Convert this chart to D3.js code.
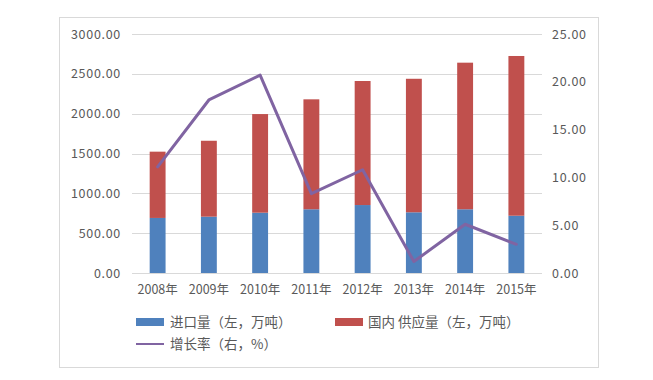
<!DOCTYPE html>
<html><head><meta charset="utf-8">
<script src="https://cdn.jsdelivr.net/npm/d3@7/dist/d3.min.js"></script>
<style>
body{margin:0;background:#fff;}
text{font-family:"Noto Sans CJK SC","DejaVu Sans",sans-serif;fill:#595959;}
</style></head>
<body><svg id="c" width="653" height="380"></svg>
<script>
const categories=["2008年","2009年","2010年","2011年","2012年","2013年","2014年","2015年"];
const imports=[691,707,757,800,853,762,800,719];
const totals=[1523,1660,1995,2180,2410,2438,2640,2724];
const domestic=totals.map((t,i)=>t-imports[i]);
const growth=[11.1,18.1,20.7,8.3,10.8,1.2,5.1,3.0];
const leftTicks=[0,500,1000,1500,2000,2500,3000];
const rightTicks=[0,5,10,15,20,25];
const legendLabels=["进口量（左，万吨）","国内 供应量（左，万吨）","增长率（右，%）"];
const colors={imp:"#4F81BD",dom:"#C0504D",line:"#8064A2"};

const svg=d3.select("#c");
svg.append("rect").attr("x",59.5).attr("y",17.5).attr("width",539).attr("height",350)
  .attr("fill","#fff").attr("stroke","#d9d9d9");

const L=132,R=542,T=34,B=273;
const x=d3.scaleBand().domain(categories).range([L,R]).paddingInner(0.69).paddingOuter(0.345);
const yL=d3.scaleLinear().domain([0,3000]).range([B,T]);
const yR=d3.scaleLinear().domain([0,25]).range([B,T]);

// grid
svg.append("g").selectAll("line").data(leftTicks.slice(1)).join("line")
  .attr("x1",L).attr("x2",R).attr("y1",d=>Math.round(yL(d))+0.5).attr("y2",d=>Math.round(yL(d))+0.5)
  .attr("stroke","#d9d9d9").attr("stroke-width",1);

// left axis
const ga=svg.append("g").attr("transform",`translate(${L},0)`)
  .call(d3.axisLeft(yL).tickValues(leftTicks).tickFormat(d3.format(".2f")).tickSize(0).tickPadding(11));
ga.select(".domain").remove();
ga.selectAll("text").style("font-size","12.5px").style("letter-spacing","0.7px").attr("fill","#595959").style("font-family","'Noto Sans CJK SC',sans-serif");

const gr=svg.append("g").attr("transform",`translate(${R},0)`)
  .call(d3.axisRight(yR).tickValues(rightTicks).tickFormat(d3.format(".2f")).tickSize(0).tickPadding(10));
gr.select(".domain").remove();
gr.selectAll("text").style("font-size","12.5px").style("letter-spacing","0.7px").attr("fill","#595959").style("font-family","'Noto Sans CJK SC',sans-serif");

// bars
svg.append("g").selectAll("rect").data(categories).join("rect")
  .attr("x",d=>x(d)).attr("width",x.bandwidth())
  .attr("y",(d,i)=>yL(imports[i])).attr("height",(d,i)=>yL(0)-yL(imports[i]))
  .attr("fill",colors.imp);
svg.append("g").selectAll("rect").data(categories).join("rect")
  .attr("x",d=>x(d)).attr("width",x.bandwidth())
  .attr("y",(d,i)=>yL(imports[i]+domestic[i])).attr("height",(d,i)=>yL(imports[i])-yL(imports[i]+domestic[i]))
  .attr("fill",colors.dom);

// baseline
svg.append("line").attr("x1",L).attr("x2",R).attr("y1",B+0.5).attr("y2",B+0.5).attr("stroke","#d9d9d9");

// x axis labels
const gx=svg.append("g").attr("transform",`translate(0,${B})`)
  .call(d3.axisBottom(x).tickSize(0).tickPadding(12));
gx.select(".domain").remove();
gx.selectAll("text").style("font-size","12.5px").attr("fill","#595959").style("font-family","'Noto Sans CJK SC',sans-serif");

// line
const line=d3.line().x((d,i)=>x(categories[i])+x.bandwidth()/2).y(d=>yR(d));
svg.append("path").datum(growth).attr("d",line).attr("fill","none")
  .attr("stroke",colors.line).attr("stroke-width",3).attr("stroke-linejoin","round").attr("stroke-linecap","round");

// legend
const lg=svg.append("g");
lg.append("rect").attr("x",136).attr("y",318).attr("width",28).attr("height",8).attr("fill",colors.imp);
lg.append("text").attr("x",170).attr("y",322).attr("dy","0.35em").style("font-size","13.5px").text(legendLabels[0]);
lg.append("rect").attr("x",335).attr("y",318).attr("width",28).attr("height",8).attr("fill",colors.dom);
lg.append("text").attr("x",368).attr("y",322).attr("dy","0.35em").style("font-size","13.5px").text(legendLabels[1]);
lg.append("line").attr("x1",136).attr("x2",164).attr("y1",344).attr("y2",344).attr("stroke",colors.line).attr("stroke-width",2);
lg.append("text").attr("x",170).attr("y",344).attr("dy","0.35em").style("font-size","13.5px").text(legendLabels[2]);
</script></body></html>
